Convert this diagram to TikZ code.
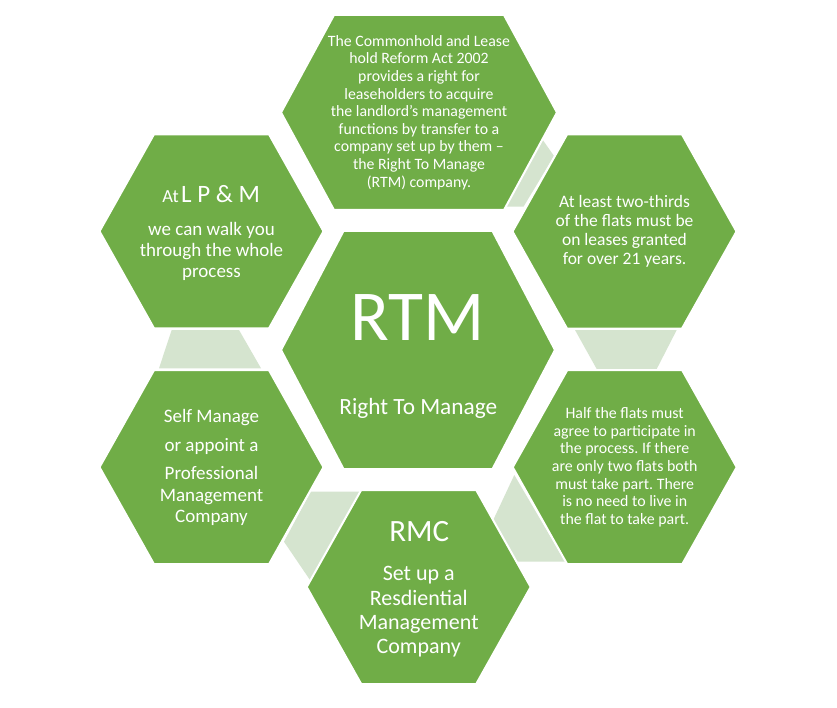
\documentclass[tikz,border=0pt]{standalone}
\usepackage{fontspec}
\setmainfont{Carlito}
\frenchspacing
\definecolor{hexgreen}{HTML}{70AD47}
\definecolor{linkgreen}{HTML}{D5E4CF}
\newcommand{\hexa}[6]{% name, cx, cy, half width, half height, half top edge
  \path[hexbox] ({#2-#4},#3) -- ({#2-#6},{#3-#5}) -- ({#2+#6},{#3-#5}) -- ({#2+#4},#3)
    -- ({#2+#6},{#3+#5}) -- ({#2-#6},{#3+#5}) -- cycle;
  \coordinate (#1) at (#2,#3);}
\begin{document}
\begin{tikzpicture}[x=1pt,y=-1pt,
  hexbox/.style={fill=hexgreen, draw=white, line width=2pt, line join=miter},
  linkbox/.style={fill=linkgreen},
  lbl/.style={text=white, align=center, inner sep=0pt}]
\useasboundingbox[fill=white] (0,0) rectangle (837,708);

% light connectors
\path[linkbox] (504,206.7) -- (542.3,139.3) -- (554,156) -- (523.5,206.7) -- cycle;
\path[linkbox] (575,330) -- (676.7,330) -- (656.7,369) -- (596.7,369) -- cycle;
\path[linkbox] (514.3,475) -- (491.7,523.3) -- (515,561.5) -- (565,561.5) -- cycle;
\path[linkbox] (310.7,491.7) -- (360.7,491.7) -- (310,580) -- (284,541.7) -- cycle;
\path[linkbox] (171.7,330) -- (239,330) -- (261,368.3) -- (159,368.3) -- cycle;

% hexagons
\hexa{hT}{419}{112.5}{138}{97.5}{85}
\hexa{hLT}{211.5}{231.3}{112}{97}{57.5}
\hexa{hRT}{624.5}{231.5}{112}{97}{57.5}
\hexa{hC}{418}{350}{137}{119}{74.5}
\hexa{hLB}{211.5}{467.2}{112}{97}{57.5}
\hexa{hRB}{624.7}{467.2}{112}{97}{57.5}
\hexa{hB}{418.7}{587}{112}{97}{57.5}

% texts
\node[lbl, font=\fontsize{15.8}{17.6}\selectfont] (tT) at (419,112.5)
  {The Commonhold and Lease\\hold Reform Act 2002\\provides a right for\\leaseholders to acquire\\the landlord’s management\\functions by transfer to a\\company set up by them --\\the Right To Manage\\(RTM) company.};

\node[lbl, anchor=base] (tLThead) at (211.2,202.5)
  {{\fontsize{18.5}{20}\selectfont At} {\fontsize{25}{28}\selectfont L P \& M}};
\node[lbl, font=\fontsize{19}{20.7}\selectfont] (tLT) at (211.5,251.5)
  {we can walk you\\through the whole\\process};

\node[lbl, font=\fontsize{17.5}{18.7}\selectfont] (tRT) at (624.5,231.3)
  {At least two-thirds\\of the flats must be\\on leases granted\\for over 21 years.};

\node[lbl, anchor=base, font=\fontsize{71.6}{80}\selectfont] (tChead) at (417.5,340) {RTM};
\node[lbl, anchor=base, font=\fontsize{23.3}{26}\selectfont] (tC) at (418.3,414.3) {Right To Manage};

\node[lbl, font=\fontsize{15.9}{17.7}\selectfont] (tRB) at (624.7,467.3)
  {Half the flats must\\agree to participate in\\the process. If there\\are only two flats both\\must take part. There\\is no need to live in\\the flat to take part.};

\node[lbl, font=\fontsize{19}{21.3}\selectfont] (tLB) at (211.5,467.3)
  {Self Manage\\[7.4pt]or appoint a\\[7.4pt]Professional\\Management\\Company};

\node[lbl, anchor=base, font=\fontsize{31}{34}\selectfont] (tBhead) at (419.2,541.6) {RMC};
\node[lbl, font=\fontsize{22}{24.3}\selectfont] (tB) at (418.7,612)
  {Set up a\\Resdiential\\Management\\Company};
\end{tikzpicture}
\end{document}
